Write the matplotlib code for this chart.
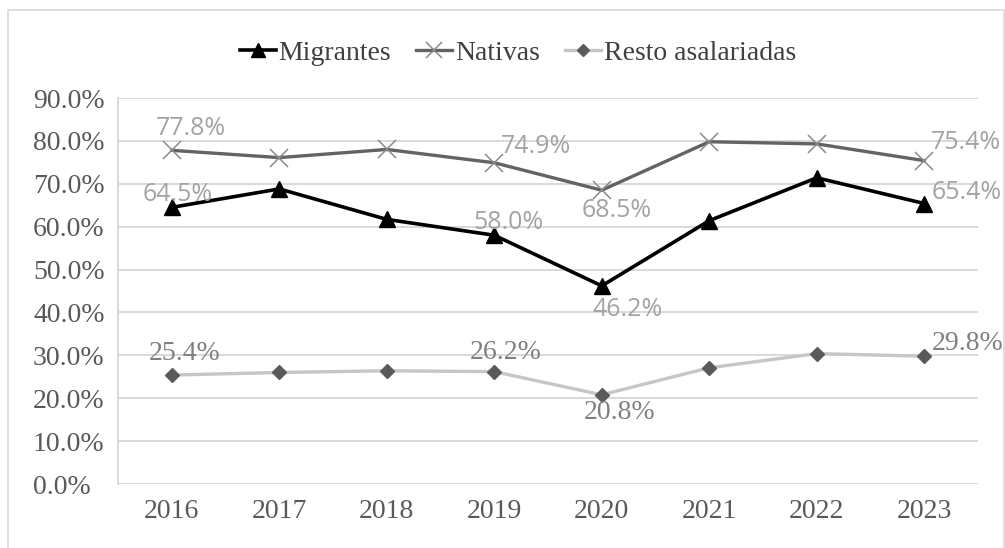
import matplotlib
matplotlib.use("Agg")
import matplotlib.pyplot as plt
from matplotlib.patches import Rectangle

# ---- data ----
years = ["2016", "2017", "2018", "2019", "2020", "2021", "2022", "2023"]
migrantes = [64.5, 68.8, 61.7, 58.0, 46.2, 61.4, 71.4, 65.4]
nativas = [77.8, 76.1, 78.0, 74.9, 68.5, 79.8, 79.3, 75.4]
resto = [25.4, 26.0, 26.4, 26.2, 20.8, 27.1, 30.4, 29.8]
y_ticks = [0, 10, 20, 30, 40, 50, 60, 70, 80, 90]
series_names = ["Migrantes", "Nativas", "Resto asalariadas"]

W, H = 1005, 548
fig = plt.figure(figsize=(W / 100, H / 100), dpi=100)
ax = fig.add_axes([118 / W, 64 / H, 860 / W, 386 / H])

x = list(range(len(years)))
l_res, = ax.plot(x, resto, color="#c6c6c6", lw=2.4, marker="D", ms=7,
                 mfc="#5a5a5a", mec="#5a5a5a", zorder=3, label=series_names[2])
l_nat, = ax.plot(x, nativas, color="#636363", lw=2.4, marker="x", ms=13,
                 mew=1.1, mec="#8a8a8a", zorder=4, label=series_names[1])
l_mig, = ax.plot(x, migrantes, color="black", lw=2.6, marker="^", ms=12,
                 zorder=5, label=series_names[0])

ax.set_xlim(-0.5, 7.5)
ax.set_ylim(0, 90)
ax.set_xticks(x)
ax.set_xticklabels(years, family="Liberation Serif", fontsize=20, color="#595959")
ax.set_yticks(y_ticks)
ax.set_yticklabels([f"{v:.1f}%" for v in y_ticks], family="Liberation Serif",
                   fontsize=20, color="#595959")
for lbl in ax.get_yticklabels():
    lbl.set_horizontalalignment("left")
ax.tick_params(axis="y", length=0, pad=(118 - 33) * 0.72)
ax.tick_params(axis="x", length=0, pad=11)

ax.yaxis.grid(True, color="#d9d9d9", lw=1.4)
ax.set_axisbelow(True)
for s in ["top", "right", "bottom"]:
    ax.spines[s].set_visible(False)
ax.spines["left"].set_color("#d9d9d9")
ax.spines["left"].set_linewidth(1.4)

# ---- data labels (offsets in pixels) ----
sans_col = "#a3a3a3"
serif_col = "#808080"
lab_nat = {0: (19, 22), 3: (42, 16), 4: (15, -20), 7: (42, 18)}
lab_mig = {0: (6, 13), 3: (14, 13), 4: (26, -24), 7: (42, 11)}
lab_res = {0: (13, 22), 3: (11, 19), 4: (18, -18), 7: (43, 13)}
for vals, labs, fam, col, fs in [
    (nativas, lab_nat, "Open Sans", sans_col, 18),
    (migrantes, lab_mig, "Open Sans", sans_col, 18),
    (resto, lab_res, "Liberation Serif", serif_col, 20),
]:
    for i, (dx, dy) in labs.items():
        ax.annotate(f"{vals[i]:.1f}%", (x[i], vals[i]), xytext=(dx, dy),
                    textcoords="offset pixels", ha="center", va="center",
                    family=fam, fontsize=fs, color=col, zorder=6,
                    annotation_clip=False)

# ---- legend ----
fig.legend(handles=[l_mig, l_nat, l_res], loc="center",
           bbox_to_anchor=(518 / W, 1 - 53 / H), ncol=3, frameon=False,
           prop={"family": "Liberation Serif", "size": 20},
           labelcolor="#404040", handlelength=1.3, handletextpad=0.1,
           columnspacing=0.9, markerscale=0.85)

# ---- chart frame ----
fig.add_artist(Rectangle((8 / W, -0.01), (1004 - 8) / W, 1 - 10 / H + 0.01,
                         transform=fig.transFigure, fill=False,
                         ec="#d9d9d9", lw=1.2))

fig.savefig("out.png", dpi=100)
